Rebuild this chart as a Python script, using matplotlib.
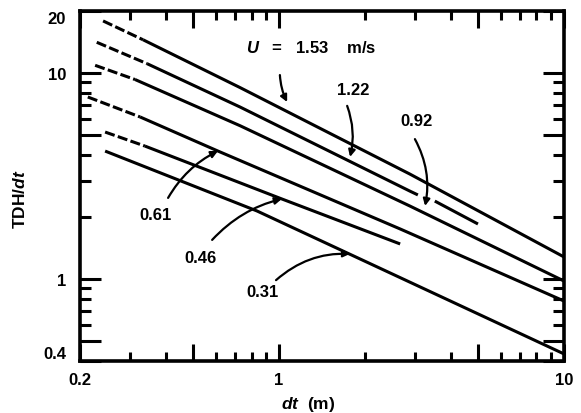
import numpy as np
import matplotlib
matplotlib.use("Agg")
import matplotlib.pyplot as plt
from matplotlib.ticker import FixedLocator, FixedFormatter, NullFormatter

plt.rcParams["font.family"] = ["Liberation Sans", "DejaVu Sans"]
plt.rcParams["font.weight"] = "bold"
plt.rcParams["axes.labelweight"] = "bold"
plt.rcParams["mathtext.fontset"] = "custom"
plt.rcParams["mathtext.rm"] = "Liberation Sans:bold"
plt.rcParams["mathtext.it"] = "Liberation Sans:italic:bold"

# ---------- data (dt in m, TDH/dt) ----------
dt_153 = [0.241, 0.333, 0.729, 2.88, 10.0]
tdh_153 = [17.9, 14.5, 8.5, 3.23, 1.28]

dt_122 = [0.229, 0.344, 0.729, 2.88, 3.07, np.nan, 3.52, 4.99]
tdh_122 = [14.1, 11.1, 6.84, 2.67, 2.56, np.nan, 2.39, 1.85]

dt_092 = [0.226, 0.312, 0.729, 2.88, 10.0]
tdh_092 = [10.9, 9.3, 5.55, 2.26, 0.978]

dt_061 = [0.213, 0.325, 0.610, 2.66, 10.0]
tdh_061 = [7.65, 6.12, 4.18, 1.75, 0.782]

dt_046 = [0.245, 0.338, 1.02, 2.66]
tdh_046 = [5.17, 4.42, 2.45, 1.48]

dt_031 = [0.245, 0.836, 10.0]
tdh_031 = [4.18, 2.14, 0.433]

curves = [(dt_153, tdh_153, True), (dt_122, tdh_122, True),
          (dt_092, tdh_092, True), (dt_061, tdh_061, True),
          (dt_046, tdh_046, True), (dt_031, tdh_031, False)]

x_major = [0.2, 0.5, 1, 5, 10]
x_major_labels = ["0.2", "", "1", "", "10"]
x_minor = [0.3, 0.4, 0.6, 0.7, 0.8, 0.9, 2, 3, 4, 6, 7, 8, 9]
y_major = [0.4, 0.5, 1, 5, 10, 20]
y_major_labels = ["0.4", "", "1", "", "10", "20"]
y_minor = [0.6, 0.7, 0.8, 0.9, 2, 3, 4, 6, 7, 8, 9]

fig = plt.figure(figsize=(5.81, 4.14), dpi=100)
ax = fig.add_axes([0.1377, 0.1256, 0.833, 0.8454])
ax.set_xscale("log")
ax.set_yscale("log")
ax.set_xlim(0.2, 10)
ax.set_ylim(0.4, 20)

lw = 2.2
for x, y, dashed_start in curves:
    x = np.asarray(x)
    y = np.asarray(y)
    if dashed_start:
        ax.plot(x[:2], y[:2], color="black", lw=lw, linestyle=(0, (3.3, 1.1)),
                solid_capstyle="butt", dash_capstyle="butt")
        ax.plot(x[1:], y[1:], color="black", lw=lw, solid_capstyle="butt")
    else:
        ax.plot(x, y, color="black", lw=lw, solid_capstyle="butt")

# labels + curved arrows (axes fraction)
ax.text(0.343, 0.897, r"$\mathit{U}$   =   1.53    m/s", transform=ax.transAxes,
        fontsize=12, ha="left", va="center")
labels = [
    ("1.22", (0.564, 0.777), (0.552, 0.729), (0.558, 0.583), -0.15),
    ("0.92", (0.696, 0.686), (0.692, 0.634), (0.713, 0.443), -0.18),
    ("0.61", (0.155, 0.420), (0.182, 0.466), (0.285, 0.600), -0.15),
    ("0.46", (0.248, 0.297), (0.273, 0.346), (0.417, 0.463), -0.15),
    ("0.31", (0.378, 0.200), (0.405, 0.231), (0.558, 0.306), -0.2),
]
arrow_kw = dict(arrowstyle="-|>", color="black", lw=1.6, mutation_scale=10,
                shrinkA=0, shrinkB=0)
ax.annotate("", xy=(0.428, 0.74), xytext=(0.413, 0.817),
            xycoords="axes fraction", textcoords="axes fraction",
            arrowprops=dict(connectionstyle="arc3,rad=0.1", **arrow_kw))
for txt, pos, start, tip, rad in labels:
    ax.text(pos[0], pos[1], txt, transform=ax.transAxes, fontsize=12,
            ha="center", va="center")
    ax.annotate("", xy=tip, xytext=start,
                xycoords="axes fraction", textcoords="axes fraction",
                arrowprops=dict(connectionstyle=f"arc3,rad={rad}", **arrow_kw))

# axes styling
ax.xaxis.set_major_locator(FixedLocator(x_major))
ax.xaxis.set_major_formatter(FixedFormatter(x_major_labels))
ax.xaxis.set_minor_locator(FixedLocator(x_minor))
ax.xaxis.set_minor_formatter(NullFormatter())
ax.yaxis.set_major_locator(FixedLocator(y_major))
ax.yaxis.set_major_formatter(FixedFormatter(y_major_labels))
ax.yaxis.set_minor_locator(FixedLocator(y_minor))
ax.yaxis.set_minor_formatter(NullFormatter())

ax.tick_params(axis="x", which="major", direction="in", length=12, width=2.2,
               top=True, bottom=True, pad=8, labelsize=12)
ax.tick_params(axis="x", which="minor", direction="in", length=6.5, width=2.2,
               top=True, bottom=True)
ax.tick_params(axis="y", which="major", direction="in", length=15, width=2.2,
               left=True, right=True, pad=10, labelsize=12)
ax.tick_params(axis="y", which="minor", direction="in", length=8, width=2.2,
               left=True, right=True)
for s in ax.spines.values():
    s.set_linewidth(2.6)

# nudge end labels inward like the original
for lbl in ax.get_yticklabels():
    if lbl.get_text() == "0.4":
        lbl.set_va("bottom")
    elif lbl.get_text() == "20":
        lbl.set_va("top")

ax.set_xlabel(r"$\mathit{dt}$  (m)", fontsize=12.5)
ax.set_ylabel(r"TDH/$\mathit{dt}$", fontsize=12.5)
ax.xaxis.set_label_coords(0.471, -0.095)
ax.yaxis.set_label_coords(-0.108, 0.466)

fig.savefig("out.png", dpi=100)
